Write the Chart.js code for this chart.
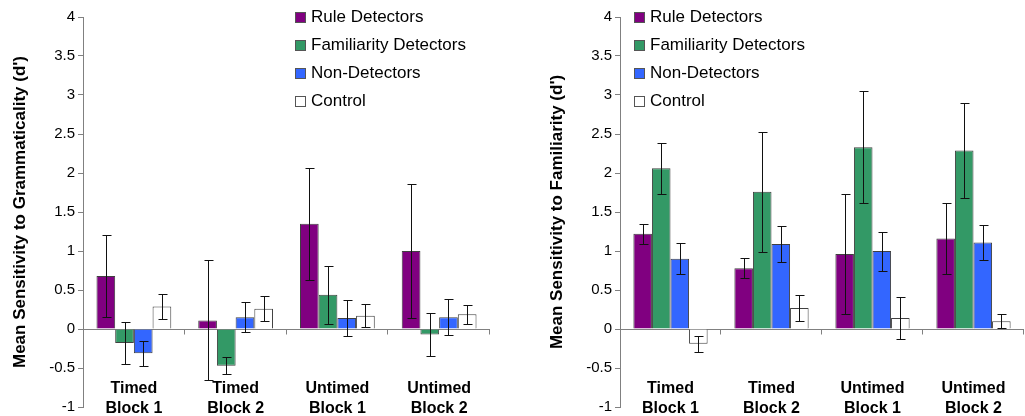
<!DOCTYPE html>
<html lang="en">
<head>
    <meta charset="UTF-8" />
    <title>Mean Sensitivity (d')</title>
    <style>
        body {
            margin: 0;
            background: #fff;
            font-family: "Liberation Sans", Arial, sans-serif;
        }
        .painel {
            position: absolute;
            top: 0;
            height: 416px;
        }
        .legenda {
            position: absolute;
            top: 3px;
            font-size: 17px;
            color: #000;
        }
        .legenda div {
            height: 28px;
            line-height: 28px;
            white-space: nowrap;
        }
        .legenda span {
            display: inline-block;
            width: 9px;
            height: 9px;
            border: 1px solid #555;
            margin-right: 5px;
            vertical-align: -1px;
        }
    </style>
</head>
<body>
<div class="painel" style="left:0;width:512px">
    <canvas id="graficoGram" width="512" height="416"></canvas>
    <div class="legenda" id="legendaGram" style="left:295px"></div>
</div>
<div class="painel" style="left:512px;width:513px">
    <canvas id="graficoFam" width="513" height="416"></canvas>
    <div class="legenda" id="legendaFam" style="left:122px"></div>
</div>

<script src="https://cdn.jsdelivr.net/npm/chart.js"></script>
<script>
    const categorias = [["Timed", "Block 1"], ["Timed", "Block 2"], ["Untimed", "Block 1"], ["Untimed", "Block 2"]];
    const grupos = ["Rule Detectors", "Familiarity Detectors", "Non-Detectors", "Control"];
    const cores = ["#800080", "#339966", "#3366FF", "#FFFFFF"];

    // sensibilidade a gramaticalidade
    const gramRule = [0.68, 0.11, 1.35, 1.00];
    const gramFam = [-0.18, -0.47, 0.44, -0.07];
    const gramNon = [-0.31, 0.15, 0.14, 0.15];
    const gramCtrl = [0.29, 0.26, 0.17, 0.19];
    const gramRuleErr = [0.52, 0.77, 0.72, 0.86];
    const gramFamErr = [0.27, 0.11, 0.37, 0.28];
    const gramNonErr = [0.16, 0.19, 0.23, 0.23];
    const gramCtrlErr = [0.16, 0.16, 0.15, 0.12];

    // sensibilidade a familiaridade
    const famRule = [1.22, 0.78, 0.96, 1.16];
    const famFam = [2.06, 1.76, 2.33, 2.29];
    const famNon = [0.90, 1.09, 1.00, 1.11];
    const famCtrl = [-0.19, 0.27, 0.14, 0.10];
    const famRuleErr = [0.13, 0.13, 0.77, 0.45];
    const famFamErr = [0.33, 0.77, 0.72, 0.61];
    const famNonErr = [0.20, 0.23, 0.25, 0.22];
    const famCtrlErr = [0.10, 0.17, 0.27, 0.09];

    const eixoMin = -1;
    const eixoMax = 4;
    const passo = 0.5;

    const barrasDeErro = {
        id: "barrasDeErro",
        afterDatasetsDraw(chart) {
            const ctx = chart.ctx;
            const y = chart.scales.y;
            const x = chart.scales.x;
            ctx.save();
            ctx.strokeStyle = "#111";
            ctx.lineWidth = 1;
            chart.data.datasets.forEach((ds, i) => {
                chart.getDatasetMeta(i).data.forEach((bar, j) => {
                    const px = Math.round(bar.x) + 0.5;
                    const topo = Math.round(y.getPixelForValue(ds.data[j] + ds.erros[j])) + 0.5;
                    const base = Math.round(y.getPixelForValue(ds.data[j] - ds.erros[j])) + 0.5;
                    ctx.beginPath();
                    ctx.moveTo(px, topo);
                    ctx.lineTo(px, base);
                    ctx.moveTo(px - 4, topo);
                    ctx.lineTo(px + 5, topo);
                    ctx.moveTo(px - 4, base);
                    ctx.lineTo(px + 5, base);
                    ctx.stroke();
                });
            });
            // marcas entre categorias na linha do zero
            const zero = Math.round(y.getPixelForValue(0)) + 0.5;
            ctx.strokeStyle = "#808080";
            for (let i = 1; i <= categorias.length; i++) {
                const px = Math.round(x.getPixelForValue(i - 0.5)) - 0.5;
                ctx.beginPath();
                ctx.moveTo(px, zero);
                ctx.lineTo(px, zero + 5);
                ctx.stroke();
            }
            ctx.restore();
        }
    };

    function montarGrafico(id, titulo, series, erros, padding) {
        return new Chart(document.getElementById(id), {
            type: "bar",
            data: {
                labels: categorias,
                datasets: grupos.map((g, i) => ({
                    label: g,
                    data: series[i],
                    erros: erros[i],
                    backgroundColor: cores[i],
                    borderColor: "#404040",
                    borderWidth: 1,
                    categoryPercentage: 0.735,
                    barPercentage: 1
                }))
            },
            options: {
                responsive: false,
                animation: false,
                layout: { padding: padding },
                plugins: {
                    legend: { display: false },
                    tooltip: { enabled: false }
                },
                scales: {
                    x: {
                        grid: { display: false, drawTicks: false },
                        border: { display: false },
                        ticks: {
                            mirror: true,
                            padding: 8,
                            color: "#000",
                            maxRotation: 0,
                            autoSkip: false,
                            font: { family: "Liberation Sans, Arial", size: 16, weight: "bold", lineHeight: 1.25 }
                        }
                    },
                    y: {
                        min: eixoMin,
                        max: eixoMax,
                        afterFit: s => { s.width = 75; },
                        ticks: {
                            stepSize: passo,
                            padding: 3,
                            color: "#000",
                            callback: v => String(v),
                            font: { family: "Liberation Sans, Arial", size: 15, lineHeight: 0.8 }
                        },
                        grid: {
                            color: c => (c.tick && c.tick.value === 0 ? "#808080" : "transparent"),
                            tickColor: "#808080",
                            tickLength: 5
                        },
                        border: { color: "#808080" },
                        title: {
                            display: true,
                            text: titulo,
                            color: "#000",
                            padding: 2,
                            font: { family: "Liberation Sans, Arial", size: 17, weight: "bold" }
                        }
                    }
                }
            },
            plugins: [barrasDeErro]
        });
    }

    function montarLegenda(id) {
        const div = document.getElementById(id);
        grupos.forEach((g, i) => {
            const linha = document.createElement("div");
            linha.innerHTML = `<span style="background:${cores[i]}"></span>${g}`;
            div.appendChild(linha);
        });
    }

    montarGrafico("graficoGram", "Mean Sensitivity to Grammaticality (d')",
        [gramRule, gramFam, gramNon, gramCtrl],
        [gramRuleErr, gramFamErr, gramNonErr, gramCtrlErr],
        { left: 8, right: 22, top: 17, bottom: -11 });
    montarGrafico("graficoFam", "Mean Sensitivity to Familiarity (d')",
        [famRule, famFam, famNon, famCtrl],
        [famRuleErr, famFamErr, famNonErr, famCtrlErr],
        { left: 33, right: 1, top: 17, bottom: -11 });

    montarLegenda("legendaGram");
    montarLegenda("legendaFam");
</script>
</body>
</html>
